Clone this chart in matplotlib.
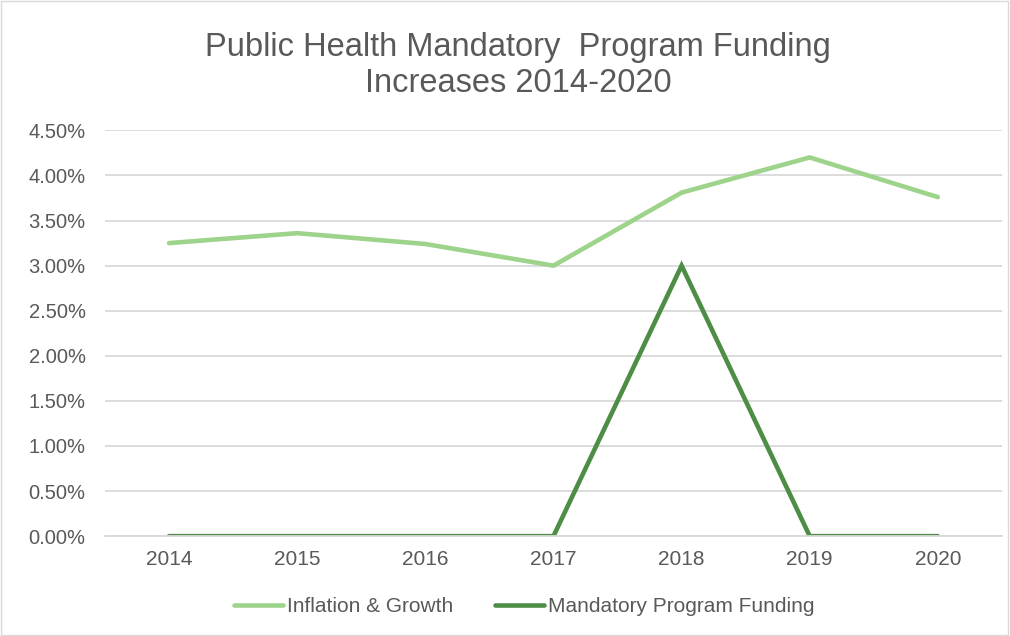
import matplotlib.pyplot as plt
from matplotlib.patches import Rectangle
from matplotlib.ticker import FuncFormatter

plt.rcParams['font.family'] = ['Liberation Sans', 'DejaVu Sans']

years = ['2014', '2015', '2016', '2017', '2018', '2019', '2020']
inflation_growth = [3.25, 3.36, 3.24, 3.00, 3.81, 4.20, 3.76]
mandatory_funding = [0, 0, 0, 0, 3.00, 0, 0]

fig = plt.figure(figsize=(10.1, 6.36), dpi=100)
ax = fig.add_axes([0.104, 0.157, 0.888, 0.638])

x = range(len(years))
ax.plot(x, inflation_growth, color='#9dd38a', lw=3.3, solid_capstyle='round',
        solid_joinstyle='miter', label='Inflation & Growth')
ax.plot(x, mandatory_funding, color='#4e8d45', lw=3.3, solid_capstyle='round',
        solid_joinstyle='miter', label='Mandatory Program Funding')

ax.set_xlim(-0.5, len(years) - 0.5)
ax.set_ylim(0, 4.5)
ax.set_yticks([i * 0.5 for i in range(10)])
ax.yaxis.set_major_formatter(FuncFormatter(lambda v, p: '%.2f%%' % v))
ax.set_xticks(list(x))
ax.set_xticklabels(years)
ax.grid(axis='y', color='#d9d9d9', lw=1.3)
ax.set_axisbelow(True)
for s in ['top', 'right', 'left']:
    ax.spines[s].set_visible(False)
ax.spines['bottom'].set_color('#d9d9d9')
ax.spines['bottom'].set_linewidth(1.3)
ax.tick_params(axis='x', length=0, labelsize=15, colors='#595959', pad=10)
ax.tick_params(axis='y', length=0, labelsize=14.5, colors='#595959', pad=14)

fig.text(0.513, 0.897, 'Public Health Mandatory  Program Funding\nIncreases 2014-2020',
         ha='center', va='center', fontsize=23.5, color='#595959', linespacing=1.2)

ax.legend(loc='center', bbox_to_anchor=(0.467, -0.174), ncol=2, frameon=False,
          fontsize=15, labelcolor='#595959', handlelength=2.35, handletextpad=0.2,
          columnspacing=2.0)

fig.patches.append(Rectangle((0.001, 0.002), 0.997, 0.996, transform=fig.transFigure,
                             fill=False, edgecolor='#d9d9d9', lw=1))

fig.savefig('out.png', dpi=100)
